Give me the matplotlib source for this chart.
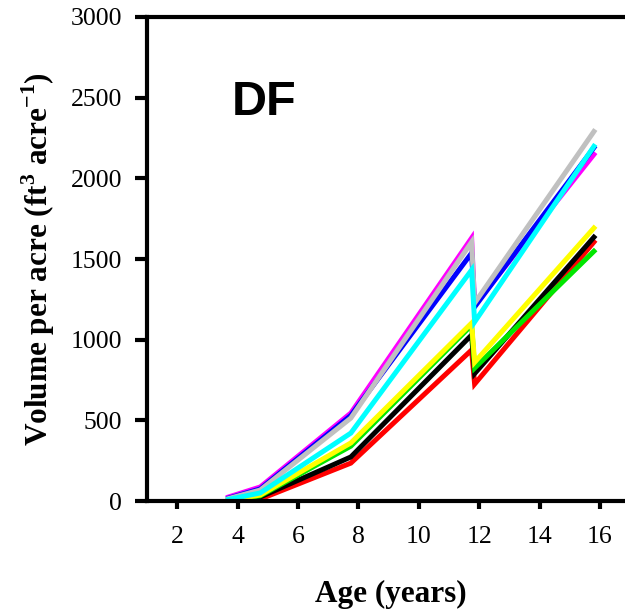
import matplotlib
matplotlib.use("Agg")
import matplotlib.pyplot as plt

# stand age at each measurement (years)
age = [3.7, 4.75, 7.75, 11.75, 11.85, 15.8]

# volume per acre for each treatment line (ft3/acre)
vol_red = [0, 12, 235, 936, 725, 1605]
vol_black = [2, 25, 273, 1029, 790, 1635]
vol_green = [4, 32, 340, 1090, 824, 1548]
vol_yellow = [5, 37, 360, 1103, 860, 1692]
vol_magenta = [25, 87, 545, 1630, 1215, 2148]
vol_blue = [18, 75, 530, 1537, 1203, 2190]
vol_gray = [15, 68, 514, 1605, 1227, 2290]
vol_cyan = [10, 50, 421, 1432, 1110, 2198]

series = [
    (vol_red, "red"),
    (vol_black, "black"),
    (vol_green, "#00e600"),
    (vol_yellow, "yellow"),
    (vol_magenta, "magenta"),
    (vol_blue, "blue"),
    (vol_gray, "#c0c0c0"),
    (vol_cyan, "cyan"),
]

plt.rcParams["font.family"] = "Liberation Serif"
plt.rcParams["mathtext.fontset"] = "custom"
plt.rcParams["mathtext.rm"] = "Liberation Serif:bold"
plt.rcParams["mathtext.bf"] = "Liberation Serif:bold"

fig = plt.figure(figsize=(6.25, 6.11), dpi=100)
ax = fig.add_axes([0.2352, 0.18, 0.7648, 0.7922])

for vals, col in series:
    ax.plot(age, vals, color=col, lw=3.6, solid_joinstyle="miter")

ax.set_xlim(1.0, 16.83)
ax.set_ylim(0, 3000)
ax.set_xticks([2, 4, 6, 8, 10, 12, 14, 16])
ax.set_yticks([0, 500, 1000, 1500, 2000, 2500, 3000])

ax.spines["right"].set_visible(False)
for s in ["left", "bottom", "top"]:
    ax.spines[s].set_linewidth(3)
ax.tick_params(axis="y", direction="out", length=9, width=3, pad=9, labelsize=18.5)
ax.tick_params(axis="x", direction="out", length=6, width=3, pad=12, labelsize=18.5)

ax.set_xlabel("Age (years)", fontsize=22.5, fontweight="bold")
ax.set_ylabel(r"Volume per acre (ft$^{3}$ acre$^{-1}$)", fontsize=22.5, fontweight="bold")
ax.xaxis.set_label_coords(0.51, -0.163)
ax.yaxis.set_label_coords(-0.188, 0.5)

ax.text(3.82, 2393, "DF", family="Liberation Sans", fontweight="bold", fontsize=35,
        ha="left", va="baseline")

fig.savefig("out.png", dpi=100)
